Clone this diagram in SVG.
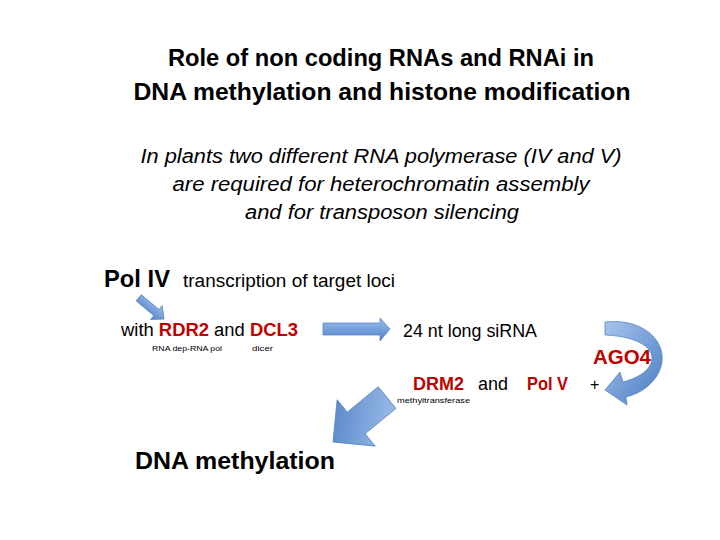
<svg xmlns="http://www.w3.org/2000/svg" width="720" height="540" viewBox="0 0 720 540">
<defs>
<linearGradient id="blue" x1="0" y1="0" x2="0" y2="1">
<stop offset="0" stop-color="#9dbfea"/>
<stop offset="1" stop-color="#4f81c9"/>
</linearGradient>
<linearGradient id="blue2" x1="0" y1="0" x2="1" y2="1">
<stop offset="0" stop-color="#a6c4ec"/>
<stop offset="1" stop-color="#4a7cc4"/>
</linearGradient>
<style>
text{font-family:"Liberation Sans",Arial,sans-serif;fill:#000}
.title{font-size:24px;font-weight:bold;text-anchor:middle}
.sub{font-size:20px;font-style:italic;text-anchor:middle}
.b{font-weight:bold}
.red{fill:#c00000;font-weight:bold}
.sm{font-size:8px}
.arrow{fill:url(#blue);stroke:#5a86c2;stroke-width:0.8}
</style>
</defs>
<rect width="720" height="540" fill="#fff"/>
<g id="title">
<text class="title" x="381" y="66" textLength="426" lengthAdjust="spacingAndGlyphs">Role of non coding RNAs and RNAi in</text>
<text class="title" x="382" y="100" textLength="497" lengthAdjust="spacingAndGlyphs">DNA methylation and histone modification</text>
</g>
<g id="subtitle">
<text class="sub" x="381" y="163" textLength="481" lengthAdjust="spacingAndGlyphs">In plants two different RNA polymerase (IV and V)</text>
<text class="sub" x="381" y="191" textLength="417" lengthAdjust="spacingAndGlyphs">are required for heterochromatin assembly</text>
<text class="sub" x="382" y="219" textLength="274" lengthAdjust="spacingAndGlyphs">and for transposon silencing</text>
</g>
<g id="polIV">
<text x="104" y="287" style="font-size:24px" class="b" textLength="66" lengthAdjust="spacingAndGlyphs">Pol IV</text>
<text x="183" y="287" style="font-size:18px" textLength="212" lengthAdjust="spacingAndGlyphs">transcription of target loci</text>
</g>
<g id="rdr2">
<text x="121" y="336" style="font-size:18px" textLength="177" lengthAdjust="spacingAndGlyphs">with <tspan class="red">RDR2</tspan> and <tspan class="red">DCL3</tspan></text>
<text class="sm" x="152" y="351" textLength="70" lengthAdjust="spacingAndGlyphs">RNA dep-RNA pol</text>
<text class="sm" x="252" y="351" textLength="21" lengthAdjust="spacingAndGlyphs">dicer</text>
</g>
<g id="sirna">
<text x="403" y="337" style="font-size:18px" textLength="134" lengthAdjust="spacingAndGlyphs">24 nt long siRNA</text>
</g>
<g id="ago4">
<text x="593" y="364" style="font-size:20px" class="red" textLength="58" lengthAdjust="spacingAndGlyphs">AGO4</text>
</g>
<g id="drm2">
<text x="413" y="390" style="font-size:18px" class="red" textLength="51" lengthAdjust="spacingAndGlyphs">DRM2</text>
<text x="478" y="390" style="font-size:18px" textLength="30" lengthAdjust="spacingAndGlyphs">and</text>
<text x="527" y="390" style="font-size:18px" class="red" textLength="41" lengthAdjust="spacingAndGlyphs">Pol V</text>
<text x="590" y="390" style="font-size:16px">+</text>
<text class="sm" x="397" y="403" textLength="73" lengthAdjust="spacingAndGlyphs">methyltransferase</text>
</g>
<g id="dnamethyl">
<text x="135" y="469" style="font-size:24px" class="b" textLength="200" lengthAdjust="spacingAndGlyphs">DNA methylation</text>
</g>
<g id="connectors">
<polygon class="arrow" transform="translate(164,319) rotate(40)" points="0,0 -10,-9 -10,-4 -33,-4 -33,4 -10,4 -10,9"/>
<polygon class="arrow" points="323,323 380,323 380,318 390,329 380,341 380,335 323,335"/>
<path class="arrow" style="fill:url(#blue2)" d="M605,322 C640,318 665,338 662,362 C659,382 640,394 626,397 L627,405 L605,390 L620,372 L623,382 C638,378 652,370 652,358 C652,345 632,336 605,335 Z"/>
<polygon class="arrow" style="fill:url(#blue2)" transform="translate(333,442) rotate(140.6)" points="0,0 -30,-30 -30,-14 -70,-14 -70,14 -30,14 -30,30"/>
</g>
</svg>
